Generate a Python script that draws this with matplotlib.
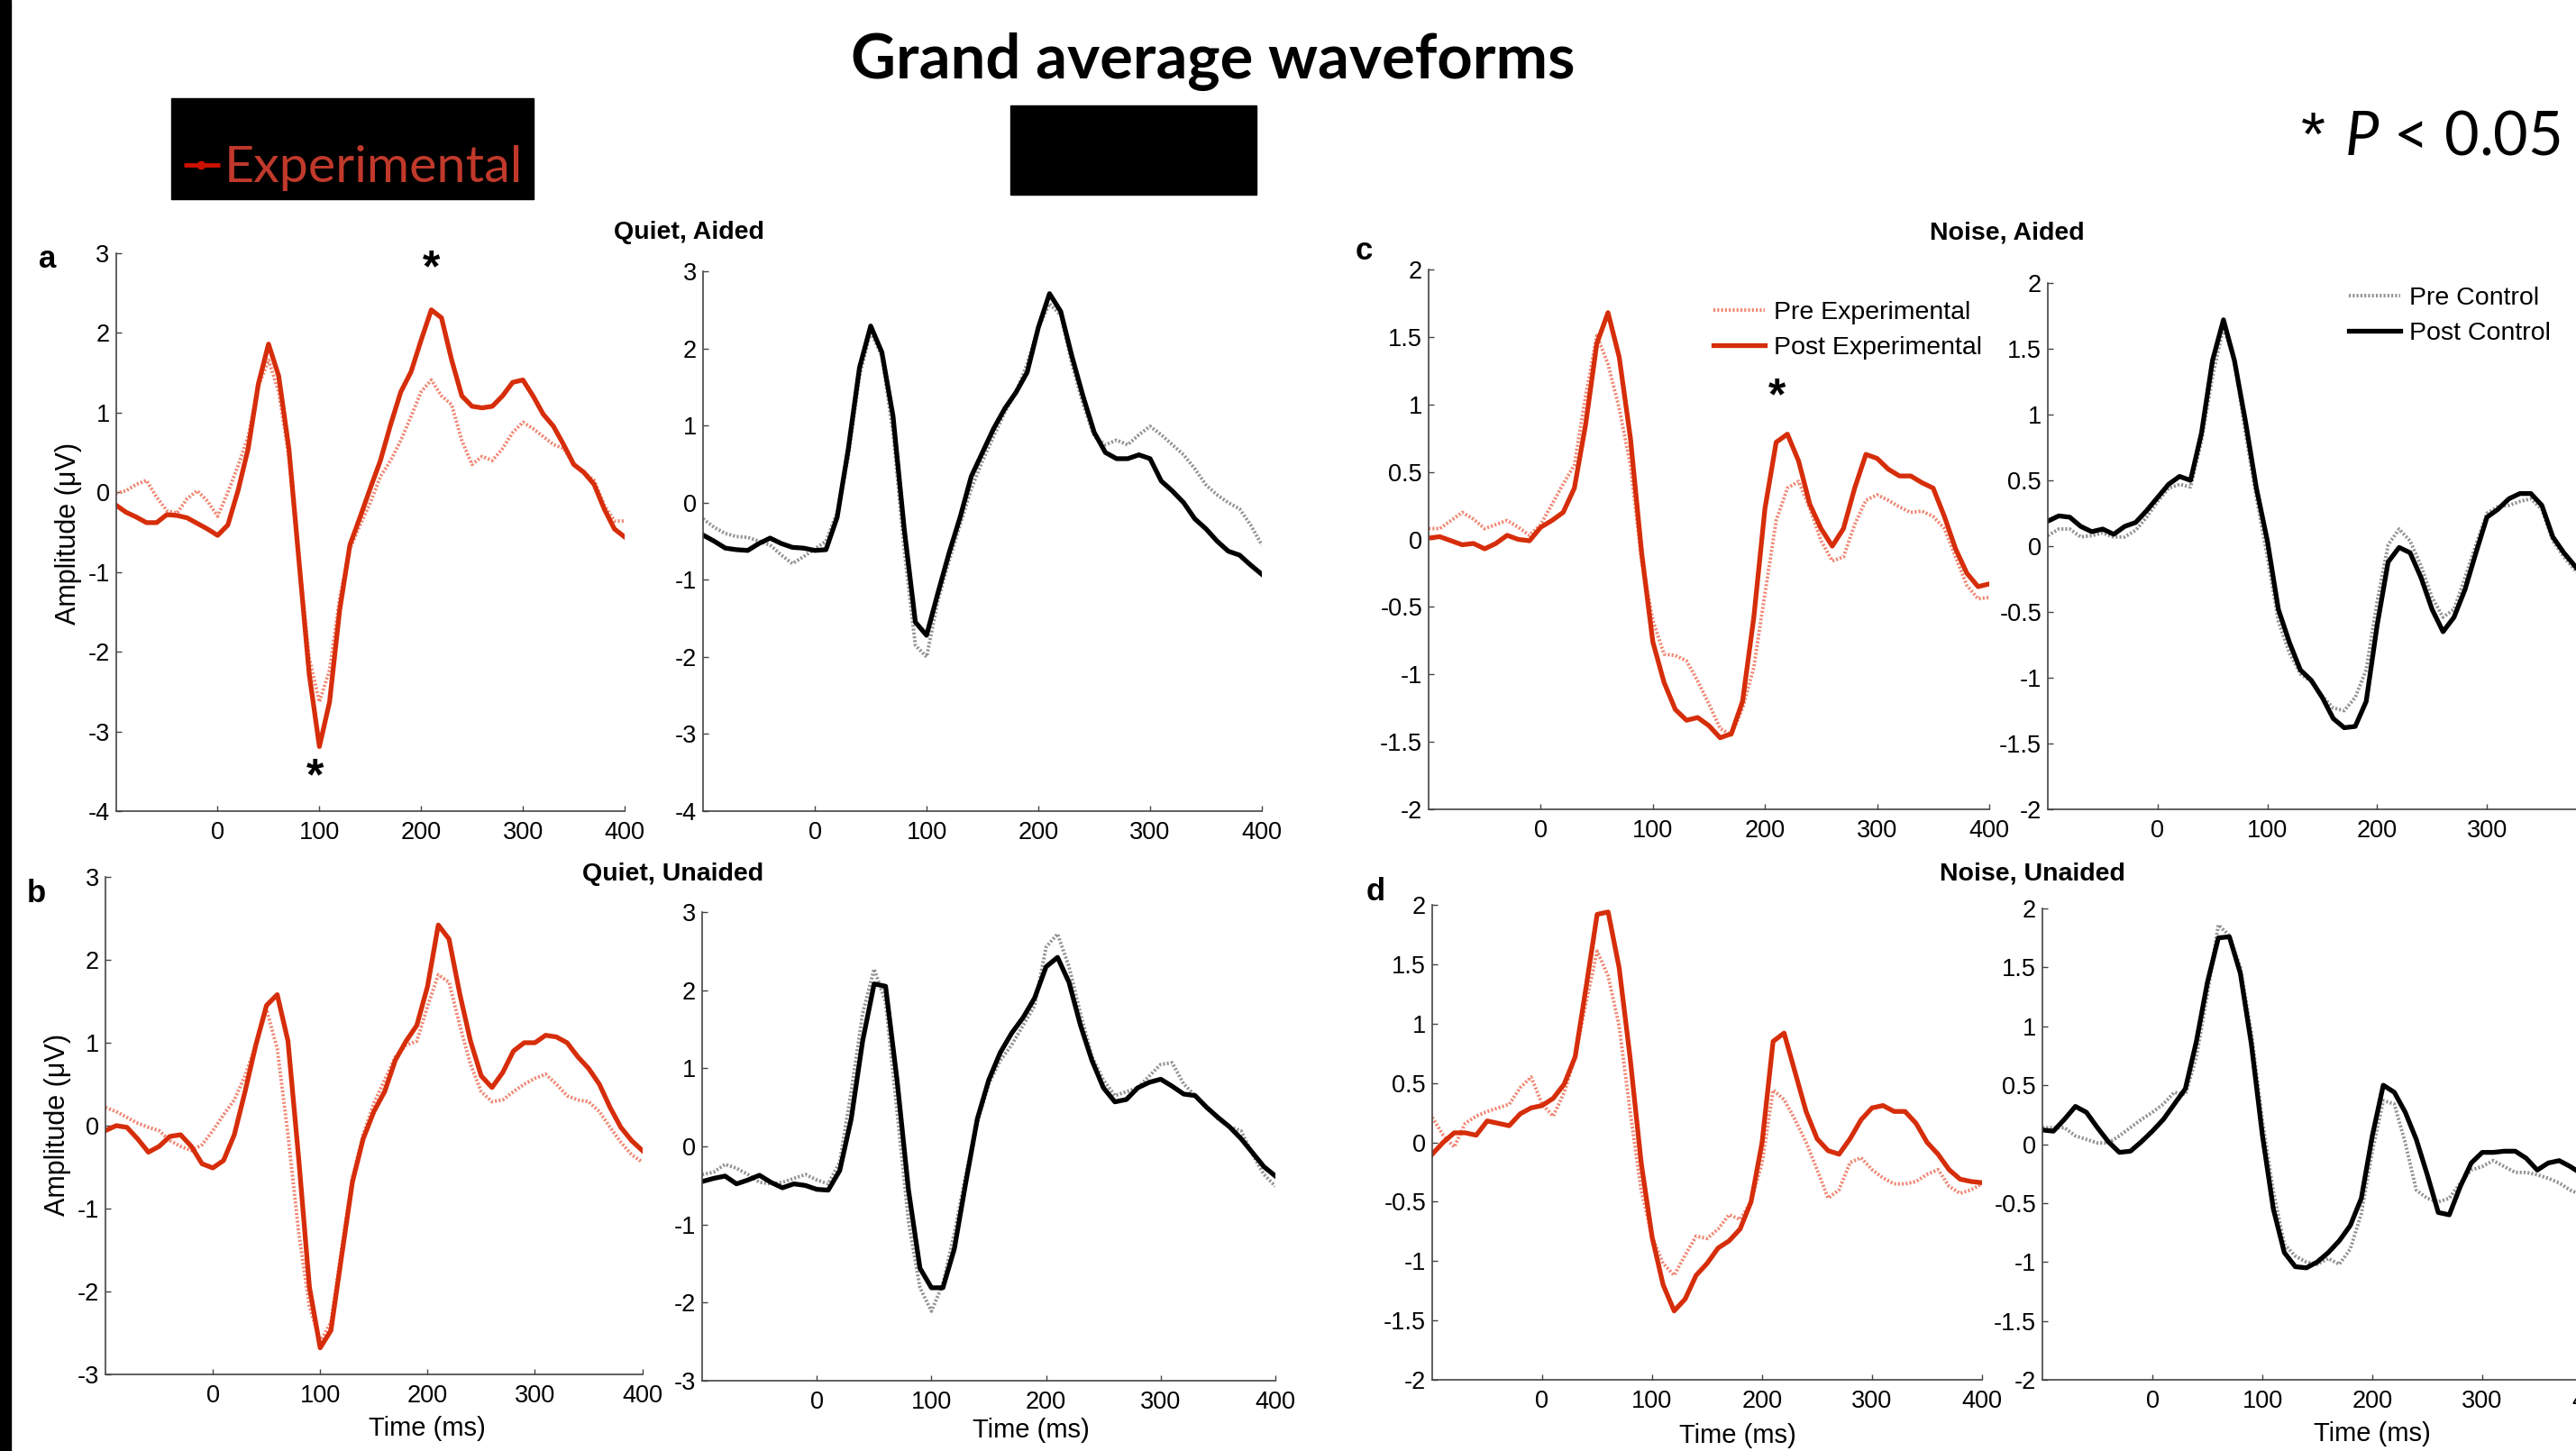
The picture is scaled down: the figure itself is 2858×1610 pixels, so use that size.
import numpy as np
import matplotlib
matplotlib.use('Agg')
import matplotlib.pyplot as plt
from matplotlib.ticker import FuncFormatter
from matplotlib.patches import Rectangle

plt.rcParams['font.family'] = ['Liberation Sans', 'DejaVu Sans']
plt.rcParams['axes.unicode_minus'] = False
plt.rcParams['mathtext.fontset'] = 'custom'
plt.rcParams['mathtext.rm'] = 'Lato'
plt.rcParams['mathtext.it'] = 'Lato:italic'

W, H = 2858, 1610

# time axis, ms (10 ms steps)
t = np.arange(-100, 401, 10)

# Quiet, Aided
qa_pre_exp = [-0.01, 0.02, 0.10, 0.15, -0.06, -0.23, -0.26, -0.08, 0.02, -0.11,
              -0.30, 0.00, 0.33, 0.70, 1.33, 1.66, 1.26, 0.45, -0.87, -2.08,
              -2.63, -2.23, -1.32, -0.71, -0.41, -0.13, 0.20, 0.40, 0.65, 0.95,
              1.26, 1.41, 1.21, 1.10, 0.65, 0.35, 0.45, 0.40, 0.55, 0.75,
              0.88, 0.80, 0.70, 0.60, 0.55, 0.35, 0.25, 0.15, -0.16, -0.36,
              -0.36]
qa_post_exp = [-0.16, -0.25, -0.31, -0.38, -0.38, -0.28, -0.29, -0.32, -0.39, -0.46,
               -0.54, -0.41, 0.02, 0.55, 1.36, 1.86, 1.46, 0.55, -0.87, -2.28,
               -3.19, -2.63, -1.47, -0.66, -0.31, 0.05, 0.40, 0.85, 1.26, 1.51,
               1.91, 2.29, 2.19, 1.66, 1.21, 1.08, 1.06, 1.08, 1.21, 1.38,
               1.41, 1.21, 0.98, 0.83, 0.60, 0.35, 0.25, 0.10, -0.21, -0.46,
               -0.56]
qa_pre_ctl = [-0.21, -0.32, -0.40, -0.44, -0.45, -0.50, -0.55, -0.68, -0.79, -0.70,
              -0.60, -0.50, -0.13, 0.60, 1.64, 2.22, 1.90, 0.91, -0.61, -1.85,
              -2.00, -1.28, -0.76, -0.29, 0.18, 0.54, 0.86, 1.17, 1.43, 1.80,
              2.27, 2.58, 2.43, 1.80, 1.28, 0.86, 0.75, 0.81, 0.75, 0.88,
              0.99, 0.88, 0.75, 0.62, 0.44, 0.23, 0.10, 0.00, -0.08, -0.29,
              -0.55]
qa_post_ctl = [-0.42, -0.50, -0.59, -0.61, -0.62, -0.53, -0.46, -0.53, -0.58, -0.59,
               -0.62, -0.61, -0.19, 0.70, 1.75, 2.29, 1.95, 1.12, -0.34, -1.55,
               -1.72, -1.18, -0.66, -0.19, 0.34, 0.65, 0.96, 1.22, 1.43, 1.69,
               2.27, 2.71, 2.48, 1.90, 1.38, 0.91, 0.65, 0.57, 0.57, 0.62,
               0.57, 0.28, 0.15, 0.00, -0.21, -0.34, -0.50, -0.63, -0.68, -0.81,
               -0.93]

# Quiet, Unaided
qu_pre_exp = [0.22, 0.17, 0.10, 0.03, -0.02, -0.06, -0.18, -0.25, -0.30, -0.23,
              -0.06, 0.13, 0.31, 0.60, 0.97, 1.40, 0.93, -0.11, -1.29, -2.18,
              -2.61, -2.37, -1.48, -0.63, -0.11, 0.27, 0.55, 0.83, 0.97, 1.02,
              1.44, 1.82, 1.73, 1.21, 0.74, 0.41, 0.29, 0.31, 0.41, 0.50,
              0.57, 0.62, 0.50, 0.36, 0.31, 0.29, 0.17, -0.02, -0.20, -0.35,
              -0.44]
qu_post_exp = [-0.06, 0.00, -0.02, -0.16, -0.32, -0.25, -0.13, -0.11, -0.25, -0.46,
               -0.51, -0.42, -0.11, 0.41, 0.97, 1.45, 1.58, 1.02, -0.40, -1.95,
               -2.68, -2.47, -1.57, -0.68, -0.16, 0.17, 0.41, 0.79, 1.02, 1.21,
               1.68, 2.42, 2.25, 1.59, 1.02, 0.60, 0.46, 0.64, 0.90, 1.00,
               1.00, 1.09, 1.07, 1.00, 0.83, 0.69, 0.50, 0.22, -0.02, -0.18,
               -0.30]
qu_pre_ctl = [-0.36, -0.33, -0.23, -0.28, -0.36, -0.46, -0.48, -0.46, -0.41, -0.36,
              -0.43, -0.48, -0.20, 0.70, 1.70, 2.27, 1.85, 0.45, -0.96, -1.81,
              -2.11, -1.76, -1.11, -0.36, 0.30, 0.80, 1.10, 1.30, 1.55, 1.80,
              2.55, 2.72, 2.30, 1.70, 1.15, 0.85, 0.65, 0.70, 0.75, 0.90,
              1.05, 1.07, 0.80, 0.65, 0.50, 0.35, 0.25, 0.20, -0.10, -0.36,
              -0.51]
qu_post_ctl = [-0.45, -0.41, -0.38, -0.48, -0.43, -0.37, -0.46, -0.53, -0.48, -0.50,
               -0.55, -0.56, -0.31, 0.35, 1.35, 2.08, 2.05, 0.85, -0.56, -1.56,
               -1.81, -1.81, -1.31, -0.46, 0.35, 0.85, 1.20, 1.45, 1.65, 1.90,
               2.30, 2.42, 2.10, 1.55, 1.10, 0.75, 0.57, 0.60, 0.75, 0.82,
               0.86, 0.77, 0.67, 0.65, 0.50, 0.37, 0.25, 0.10, -0.08, -0.26,
               -0.38]

# Noise, Aided
na_pre_exp = [0.08, 0.08, 0.14, 0.20, 0.15, 0.08, 0.11, 0.14, 0.09, 0.03,
              0.11, 0.26, 0.41, 0.55, 1.06, 1.51, 1.30, 0.97, 0.55, -0.16,
              -0.60, -0.85, -0.86, -0.90, -1.05, -1.22, -1.40, -1.45, -1.25, -0.95,
              -0.40, 0.14, 0.38, 0.43, 0.23, -0.01, -0.16, -0.13, 0.11, 0.29,
              0.33, 0.29, 0.24, 0.20, 0.21, 0.17, 0.08, -0.13, -0.34, -0.44,
              -0.43]
na_post_exp = [0.01, 0.02, -0.01, -0.04, -0.03, -0.07, -0.03, 0.03, 0.00, -0.01,
               0.09, 0.14, 0.20, 0.38, 0.85, 1.45, 1.68, 1.35, 0.75, -0.10,
               -0.76, -1.06, -1.26, -1.34, -1.32, -1.38, -1.47, -1.44, -1.20, -0.58,
               0.23, 0.72, 0.78, 0.58, 0.26, 0.08, -0.05, 0.08, 0.38, 0.63,
               0.60, 0.52, 0.47, 0.47, 0.42, 0.38, 0.17, -0.07, -0.25, -0.35,
               -0.33]
na_pre_ctl = [0.08, 0.13, 0.13, 0.07, 0.08, 0.10, 0.07, 0.07, 0.12, 0.22,
              0.34, 0.44, 0.47, 0.45, 0.80, 1.29, 1.66, 1.41, 0.86, 0.37,
              -0.08, -0.57, -0.81, -0.97, -1.03, -1.14, -1.23, -1.25, -1.15, -0.94,
              -0.42, 0.01, 0.13, 0.04, -0.15, -0.39, -0.54, -0.48, -0.24, 0.01,
              0.25, 0.30, 0.31, 0.34, 0.36, 0.28, 0.04, -0.08, -0.18, -0.28,
              -0.38]
na_post_ctl = [0.19, 0.23, 0.22, 0.15, 0.11, 0.13, 0.09, 0.15, 0.18, 0.27,
               0.37, 0.47, 0.53, 0.50, 0.86, 1.41, 1.72, 1.41, 0.95, 0.44,
               0.04, -0.48, -0.73, -0.94, -1.02, -1.15, -1.31, -1.38, -1.37, -1.18,
               -0.60, -0.12, -0.01, -0.05, -0.24, -0.48, -0.65, -0.54, -0.33, -0.05,
               0.22, 0.28, 0.36, 0.40, 0.40, 0.31, 0.07, -0.05, -0.15, -0.25,
               -0.35]

# Noise, Unaided
nu_pre_exp = [0.21, 0.06, -0.04, 0.16, 0.22, 0.26, 0.29, 0.32, 0.46, 0.55,
              0.32, 0.22, 0.42, 0.72, 1.18, 1.61, 1.40, 0.98, 0.26, -0.40,
              -0.80, -1.02, -1.12, -0.95, -0.79, -0.81, -0.73, -0.61, -0.65, -0.50,
              -0.17, 0.44, 0.36, 0.19, 0.00, -0.23, -0.47, -0.40, -0.17, -0.13,
              -0.23, -0.30, -0.35, -0.35, -0.33, -0.27, -0.23, -0.37, -0.43, -0.40,
              -0.35]
nu_post_exp = [-0.10, 0.00, 0.08, 0.08, 0.06, 0.18, 0.16, 0.14, 0.24, 0.29,
               0.31, 0.37, 0.49, 0.72, 1.31, 1.92, 1.94, 1.47, 0.71, -0.17,
               -0.80, -1.20, -1.42, -1.32, -1.12, -1.02, -0.89, -0.83, -0.73, -0.50,
               0.00, 0.85, 0.92, 0.59, 0.26, 0.03, -0.07, -0.10, 0.03, 0.19,
               0.29, 0.31, 0.26, 0.26, 0.16, 0.00, -0.10, -0.23, -0.31, -0.33,
               -0.34]
nu_pre_ctl = [0.14, 0.14, 0.14, 0.07, 0.04, 0.01, 0.01, 0.07, 0.14, 0.21,
              0.27, 0.34, 0.44, 0.42, 0.74, 1.27, 1.86, 1.77, 1.50, 0.95,
              0.20, -0.40, -0.85, -0.95, -1.00, -1.02, -0.97, -1.02, -0.89, -0.59,
              -0.06, 0.37, 0.34, 0.01, -0.39, -0.46, -0.49, -0.46, -0.33, -0.22,
              -0.19, -0.14, -0.19, -0.24, -0.24, -0.26, -0.29, -0.33, -0.39, -0.43,
              -0.47]
nu_post_ctl = [0.12, 0.11, 0.21, 0.32, 0.27, 0.14, 0.02, -0.07, -0.06, 0.02,
               0.11, 0.21, 0.34, 0.47, 0.87, 1.37, 1.75, 1.76, 1.45, 0.85,
               0.08, -0.55, -0.92, -1.04, -1.05, -1.00, -0.92, -0.82, -0.69, -0.46,
               0.07, 0.50, 0.44, 0.27, 0.04, -0.26, -0.58, -0.60, -0.36, -0.16,
               -0.07, -0.07, -0.06, -0.06, -0.12, -0.22, -0.16, -0.14, -0.19, -0.25,
               -0.30]

x_ticks = [0, 100, 200, 300, 400]
quiet_yticks = [-4, -3, -2, -1, 0, 1, 2, 3]
quiet_u_yticks = [-3, -2, -1, 0, 1, 2, 3]
noise_yticks = [-2, -1.5, -1, -0.5, 0, 0.5, 1, 1.5, 2]

# significance marks: (panel, time, amplitude)
sig_marks = [('qa_exp', 210, 2.79), ('qa_exp', 96, -3.59), ('na_exp', 211, 1.05)]

red_post = '#d62d0a'
red_pre = '#f08672'
grey_pre = '#929292'
dots = (0, (0.55, 0.55))

fig = plt.figure(figsize=(W / 100, H / 100), dpi=100)

# slide decorations (pixel coords)
deco = fig.add_axes([0, 0, 1, 1])
deco.set_xlim(0, W)
deco.set_ylim(H, 0)
deco.axis('off')
deco.add_patch(Rectangle((0, 0), 12, H, color='black'))
deco.add_patch(Rectangle((190, 109), 402, 112, color='black'))
deco.add_patch(Rectangle((1121, 117), 273, 99, color='black'))
deco.plot([204, 244], [183, 183], color='#cc1100', lw=3.5, solid_capstyle='butt')
deco.plot([223], [183], 'o', color='#cc1100', ms=6)
exp_txt = deco.text(249, 202, 'Experimental', color='#c0392b', fontsize=30,
                    family='Lato', ha='left', va='baseline')
title = deco.text(1346, 87, 'Grand average waveforms', fontsize=47, weight='bold',
                  family='Lato', ha='center', va='baseline')
pval = deco.text(2841, 172, r'$P$ < 0.05', fontsize=48, family='Lato',
                 ha='right', va='baseline')
star = deco.text(2566, 154, '*', fontsize=50, family='Liberation Sans',
                 ha='center', va='center')

renderer = fig.canvas.get_renderer()
for txt, width in [(exp_txt, 331), (title, 803), (pval, 240)]:
    bb = txt.get_window_extent(renderer)
    txt.set_fontsize(txt.get_fontsize() * width / bb.width)


def px_rect(x0, x1, y0, y1):
    return [x0 / W, 1 - y1 / H, (x1 - x0) / W, (y1 - y0) / H]


def fx(x):
    return x / W


def fy(y):
    return 1 - y / H


panels = {
    'qa_exp': (qa_pre_exp, qa_post_exp, 'exp', (128.6, 693, 281, 900), (-4, 3), quiet_yticks),
    'qa_ctl': (qa_pre_ctl, qa_post_ctl, 'ctl', (780, 1400, 301, 900), (-4, 3), quiet_yticks),
    'na_exp': (na_pre_exp, na_post_exp, 'exp', (1585, 2207, 299, 898), (-2, 2), noise_yticks),
    'na_ctl': (na_pre_ctl, na_post_ctl, 'ctl', (2272, 2881, 314, 898), (-2, 2), noise_yticks),
    'qu_exp': (qu_pre_exp, qu_post_exp, 'exp', (117, 712.6, 973, 1525), (-3, 3), quiet_u_yticks),
    'qu_ctl': (qu_pre_ctl, qu_post_ctl, 'ctl', (779, 1415, 1012, 1532), (-3, 3), quiet_u_yticks),
    'nu_exp': (nu_pre_exp, nu_post_exp, 'exp', (1589, 2199, 1004, 1531), (-2, 2), noise_yticks),
    'nu_ctl': (nu_pre_ctl, nu_post_ctl, 'ctl', (2266, 2876, 1008, 1531), (-2, 2), noise_yticks),
}

axes = {}
for key, (pre, post, grp, box, ylim, yt) in panels.items():
    ax = fig.add_axes(px_rect(*box))
    ax.patch.set_alpha(0)
    if grp == 'exp':
        ax.plot(t, pre, color=red_pre, lw=2.8, ls=dots, label='Pre Experimental')
        ax.plot(t, post, color=red_post, lw=3.8, label='Post Experimental')
    else:
        ax.plot(t, pre, color=grey_pre, lw=2.8, ls=dots, label='Pre Control')
        ax.plot(t, post, color='black', lw=3.8, label='Post Control')
    ax.set_xlim(-100, 400)
    ax.set_ylim(*ylim)
    ax.set_xticks(x_ticks)
    ax.set_yticks(yt)
    ax.yaxis.set_major_formatter(FuncFormatter(lambda v, p: '%g' % v))
    for s in ['top', 'right']:
        ax.spines[s].set_visible(False)
    for s in ['left', 'bottom']:
        ax.spines[s].set_color('#444444')
        ax.spines[s].set_linewidth(1.2)
    ax.tick_params(direction='in', length=4, width=1, color='#444444', labelsize=19.5)
    ax.tick_params(axis='x', pad=8)
    ax.tick_params(axis='y', pad=5)
    axes[key] = ax

for key, tm, amp in sig_marks:
    axes[key].text(tm, amp, '*', fontsize=36, fontweight='bold', ha='center', va='center')

leg_kw = dict(loc='upper left', bbox_transform=fig.transFigure, frameon=False, fontsize=20.5,
              handlelength=2.0, handletextpad=0.35, labelspacing=0.45, borderpad=0,
              borderaxespad=0)
axes['na_exp'].legend(bbox_to_anchor=(fx(1901), fy(334)), **leg_kw)
axes['na_ctl'].legend(bbox_to_anchor=(fx(2606), fy(318)), **leg_kw)

for txt, x, y in [('Quiet, Aided', 764, 265), ('Noise, Aided', 2227, 265),
                  ('Quiet, Unaided', 747, 977), ('Noise, Unaided', 2255, 976)]:
    fig.text(fx(x), fy(y), txt, fontsize=20.5, weight='bold', ha='center', va='baseline')

for txt, x, y in [('a', 53, 297), ('b', 40, 1001), ('c', 1513, 288), ('d', 1526, 999)]:
    fig.text(fx(x), fy(y), txt, fontsize=25, weight='bold', ha='center', va='baseline')

for x, y in [(76, 592), (64, 1248)]:
    fig.text(fx(x), fy(y), 'Amplitude (μV)', fontsize=22, rotation=90, ha='center', va='center')

for x, y in [(474, 1585), (1144, 1587), (1928, 1593), (2632, 1591)]:
    fig.text(fx(x), fy(y), 'Time (ms)', fontsize=21, ha='center', va='center')

fig.savefig('out.png', dpi=100)
